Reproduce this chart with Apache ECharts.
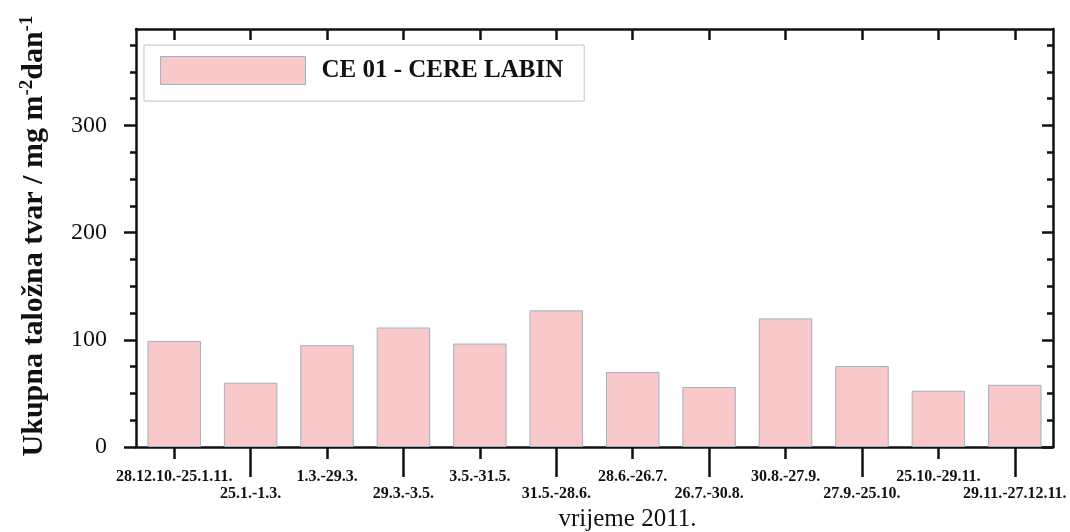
<!DOCTYPE html>
<html>
<head>
<meta charset="utf-8">
<script src="https://cdn.jsdelivr.net/npm/echarts@6/dist/echarts.min.js"></script>
<style>
  html, body { margin: 0; padding: 0; background: #ffffff; }
  #chart { width: 1070px; height: 532px; }
</style>
</head>
<body>
<div id="chart"></div>
<script>
// Sampling periods (2011) and total deposited matter, mg m-2 day-1
const periods = [
  '28.12.10.-25.1.11.', '25.1.-1.3.', '1.3.-29.3.', '29.3.-3.5.',
  '3.5.-31.5.', '31.5.-28.6.', '28.6.-26.7.', '26.7.-30.8.',
  '30.8.-27.9.', '27.9.-25.10.', '25.10.-29.11.', '29.11.-27.12.11.'
];
const deposition = [99, 60, 95, 111.5, 96.5, 127.5, 70, 56, 120, 75.5, 52.5, 58];
const seriesName = 'CE 01 - CERE LABIN';
const yMajorTicks = [0, 100, 200, 300];
const yMinorTicks = [25, 50, 75, 125, 150, 175, 225, 250, 275, 325, 350, 375];
const yMin = 0;
const yMax = 390;

const SERIF = '"Liberation Serif", "DejaVu Serif", serif';
const INK = '#111111';
const LINE_W = 2.5;

const chart = echarts.init(document.getElementById('chart'), null, { renderer: 'canvas' });

// Period labels alternate between two rows below the axis
const evenIdx = (i) => i % 2 === 0;
const oddIdx = (i) => i % 2 === 1;

const xLabelStyle = {
  fontFamily: SERIF, fontSize: 16, fontWeight: 'bold', color: INK
};

const valueAxisBase = {
  type: 'value', min: yMin, max: yMax, gridIndex: 0,
  splitLine: { show: false }
};

chart.setOption({
  animation: false,
  backgroundColor: '#ffffff',
  grid: { left: 136, right: 17, top: 29, bottom: 85, containLabel: false, outerBoundsMode: 'none' },
  legend: {
    data: [seriesName],
    left: 144, top: 45,
    padding: [11, 21, 16, 16],
    borderColor: '#b4c6d6', borderWidth: 1,
    itemWidth: 145, itemHeight: 28,
    icon: 'rect',
    itemStyle: { color: '#f8c9c8', borderColor: '#9fb2c4', borderWidth: 1 },
    textStyle: { fontFamily: SERIF, fontSize: 25, fontWeight: 'bold', color: INK, padding: [0, 0, 0, 11] },
    selectedMode: false
  },
  xAxis: [
    {
      type: 'category', data: periods, position: 'bottom', gridIndex: 0,
      axisLine: { show: true, onZero: false, lineStyle: { color: INK, width: LINE_W } },
      axisTick: { show: true, alignWithLabel: true, inside: false, length: 12,
                  interval: evenIdx, lineStyle: { color: INK, width: LINE_W } },
      axisLabel: { show: true, interval: evenIdx, margin: 22, ...xLabelStyle },
      splitLine: { show: false }
    },
    {
      type: 'category', data: periods, position: 'bottom', gridIndex: 0,
      axisLine: { show: false, onZero: false },
      axisTick: { show: true, alignWithLabel: true, inside: false, length: 30,
                  interval: oddIdx, lineStyle: { color: INK, width: LINE_W } },
      axisLabel: { show: true, interval: oddIdx, margin: 39, ...xLabelStyle },
      splitLine: { show: false },
      name: 'vrijeme 2011.',
      nameLocation: 'middle',
      nameGap: 56,
      nameTextStyle: { fontFamily: SERIF, fontSize: 25, color: INK, padding: [0, 0, 0, 66] }
    },
    {
      type: 'category', data: periods, position: 'top', gridIndex: 0,
      axisLine: { show: true, onZero: false, lineStyle: { color: INK, width: LINE_W } },
      axisTick: { show: true, alignWithLabel: true, inside: true, length: 11,
                  interval: 0, lineStyle: { color: INK, width: LINE_W } },
      axisLabel: { show: false },
      splitLine: { show: false }
    }
  ],
  yAxis: [
    {
      ...valueAxisBase, position: 'left',
      axisLine: { show: true, onZero: false, lineStyle: { color: INK, width: LINE_W } },
      axisTick: { show: true, inside: false, length: 12, customValues: yMajorTicks,
                  lineStyle: { color: INK, width: LINE_W } },
      axisLabel: { show: true, customValues: yMajorTicks, margin: 29,
                   fontFamily: SERIF, fontSize: 24, color: INK },
      name: 'Ukupna taložna tvar / mg m{sup|-2}dan{sup|-1}',
      nameLocation: 'middle',
      nameGap: 85,
      nameRotate: 90,
      nameTextStyle: {
        fontFamily: SERIF, fontSize: 30, fontWeight: 'bold', color: INK,
        padding: [0, 0, 0, 4],
        rich: {
          sup: { fontFamily: SERIF, fontSize: 19, fontWeight: 'bold', color: INK,
                 verticalAlign: 'top', padding: [0, 0, 14, 0] }
        }
      }
    },
    {
      ...valueAxisBase, position: 'left',
      axisLine: { show: false, onZero: false },
      axisTick: { show: true, inside: false, length: 6, customValues: yMinorTicks,
                  lineStyle: { color: INK, width: LINE_W } },
      axisLabel: { show: false }
    },
    {
      ...valueAxisBase, position: 'right',
      axisLine: { show: true, onZero: false, lineStyle: { color: INK, width: LINE_W } },
      axisTick: { show: true, inside: true, length: 11, customValues: yMajorTicks,
                  lineStyle: { color: INK, width: LINE_W } },
      axisLabel: { show: false }
    },
    {
      ...valueAxisBase, position: 'right',
      axisLine: { show: false, onZero: false },
      axisTick: { show: true, inside: true, length: 6, customValues: yMinorTicks,
                  lineStyle: { color: INK, width: LINE_W } },
      axisLabel: { show: false }
    }
  ],
  series: [
    {
      name: seriesName,
      type: 'bar',
      xAxisIndex: 0,
      yAxisIndex: 0,
      data: deposition,
      barWidth: '70%',
      itemStyle: { color: '#f8c9c8', borderColor: '#9fb2c4', borderWidth: 1 },
      emphasis: { disabled: true }
    }
  ]
});
</script>
</body>
</html>
